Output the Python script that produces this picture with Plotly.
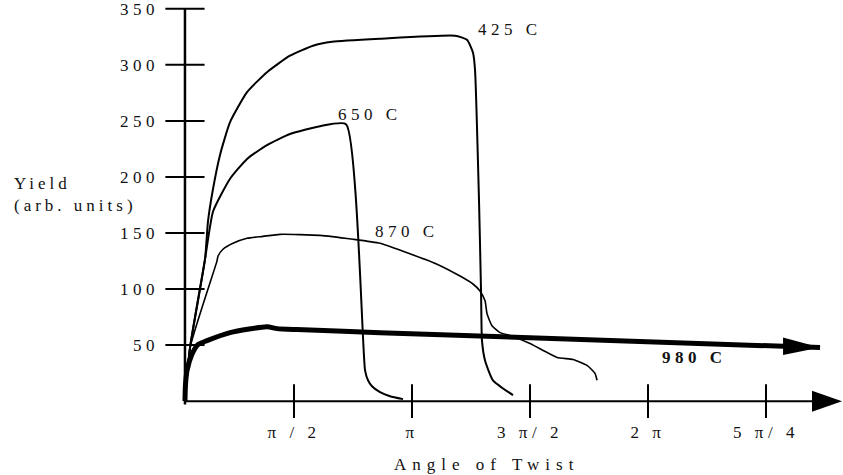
import plotly.graph_objects as go

# ---- data (angle in units of pi/2, yield in arb. units) ----
angle_ticks = [1, 2, 3, 4, 5]
angle_tick_labels = ["π / 2", "π", "3 π/ 2", "2 π", "5 π/ 4"]
yield_ticks = [50, 100, 150, 200, 250, 300, 350]

x425 = [0.076, 0.119, 0.246, 0.271, 0.314, 0.373, 0.458, 0.602, 0.771, 0.966,
        1.161, 1.322, 1.729, 2.364, 2.466, 2.517, 2.534, 2.568, 2.585, 2.593,
        2.619, 2.686, 2.856]
y425 = [0, 47.8, 126.7, 160.3, 189.5, 219.7, 248.9, 275.6, 293.5, 308.2,
        317.1, 320.6, 323.3, 326.0, 322.4, 310.9, 295.8, 178.0, 98.3, 54.0,
        36.3, 18.6, 5.3]

x650 = [0.076, 0.119, 0.246, 0.314, 0.458, 0.602, 0.771, 0.966, 1.220, 1.441,
        1.602, 1.627, 1.661, 1.729, 1.814, 1.924]
y650 = [0, 47.8, 126.7, 169.2, 198.4, 216.1, 228.5, 238.3, 245.3, 247.1,
        27.5, 18.6, 13.3, 8.0, 4.4, 1.8]

x870 = [0.076, 0.119, 0.347, 0.356, 0.398, 0.483, 0.602, 0.737, 0.881, 1.220,
        1.500, 1.729, 1.924, 2.212, 2.407, 2.517, 2.576, 2.619, 2.636, 2.678,
        2.746, 2.831, 3.000, 3.229, 3.364, 3.483, 3.551, 3.568]
y870 = [0, 47.8, 124.9, 129.3, 135.5, 140.8, 145.3, 147.0, 148.8, 147.9,
        144.4, 140.8, 133.7, 122.2, 111.6, 104.5, 98.3, 89.5, 77.9, 67.3,
        61.1, 58.5, 51.4, 39.0, 37.2, 31.9, 24.8, 18.6]

x980 = [0.076, 0.080, 0.093, 0.136, 0.186, 0.263, 0.458, 0.771, 0.856, 1.025, 1.729, 5.458]
y980 = [0, 14.0, 27.0, 42.0, 50.5, 54.0, 61.1, 66.4, 64.7, 63.8, 61.1, 47.8]

curve_labels = ["425 C", "650 C", "870 C", "980 C"]
label_x = [2.831, 1.644, 1.958, 4.398]
label_y = [331.3, 256.0, 151.5, 39.0]

axis_x0 = 0.076      # where the drawn y axis sits
x_axis_end = 5.644   # tip of x-axis arrow

FONT = "Liberation Serif"
def sp(t, s=4.5):
    return f'<span style="letter-spacing:{s}px">{t}</span>'

fig = go.Figure()

for xs, ys, w in [(x425, y425, 2), (x650, y650, 2), (x870, y870, 1.6)]:
    fig.add_trace(go.Scatter(x=xs, y=ys, mode="lines",
                             line=dict(color="black", width=w, shape="spline", smoothing=0.5),
                             hoverinfo="skip"))
fig.add_trace(go.Scatter(x=x980, y=y980, mode="lines",
                         line=dict(color="black", width=5, shape="spline", smoothing=0.6),
                         hoverinfo="skip"))

# tick marks crossing the axes
fig.add_trace(go.Scatter(x=[axis_x0] * len(yield_ticks), y=yield_ticks, mode="markers",
                         marker=dict(symbol="line-ew", size=28,
                                     line=dict(color="black", width=2)),
                         hoverinfo="skip", cliponaxis=False))
fig.add_trace(go.Scatter(x=angle_ticks, y=[0] * len(angle_ticks), mode="markers",
                         marker=dict(symbol="line-ns", size=24,
                                     line=dict(color="black", width=2)),
                         hoverinfo="skip"))

shapes = [
    dict(type="line", xref="x", yref="y", x0=axis_x0, x1=axis_x0, y0=-3, y1=yield_ticks[-1],
         line=dict(color="black", width=2.5)),
    dict(type="line", xref="x", yref="y", x0=axis_x0, x1=x_axis_end - 0.1, y0=0, y1=0,
         line=dict(color="black", width=2)),
    dict(type="path", xref="x", yref="y", xsizemode="pixel", ysizemode="pixel",
         xanchor=x_axis_end, yanchor=0, path="M-30,-10.5 L0,0 L-30,10.5 Z",
         fillcolor="black", line=dict(width=0)),
    dict(type="path", xref="x", yref="y", xsizemode="pixel", ysizemode="pixel",
         xanchor=x980[-1], yanchor=y980[-1], path="M-37,10 L0,0 L-37,-7.5 Z",
         fillcolor="black", line=dict(width=0)),
]

annotations = []
for i, (t, xx, yy) in enumerate(zip(curve_labels, label_x, label_y)):
    txt = sp(f"<b>{t}</b>" if i == 3 else t)
    annotations.append(dict(x=xx, y=yy, xref="x", yref="y", text=txt, showarrow=False,
                            font=dict(family=FONT, size=17, color="#111")))
annotations.append(dict(x=-0.2167, y=0.54, xref="paper", yref="paper", xanchor="left",
                        yanchor="middle", align="left", showarrow=False,
                        text=sp("Yield", 4) + "<br>" + sp("(arb. units)", 4),
                        font=dict(family=FONT, size=17, color="#111")))
annotations.append(dict(x=0.478, y=-0.106, xref="paper", yref="paper", xanchor="center",
                        yanchor="middle", showarrow=False, text=sp("Angle of Twist", 6),
                        font=dict(family=FONT, size=17, color="#111")))

fig.update_layout(
    width=843, height=475,
    margin=dict(l=160, r=0, t=0, b=55),
    paper_bgcolor="white", plot_bgcolor="white",
    showlegend=False,
    shapes=shapes, annotations=annotations,
    xaxis=dict(range=[-0.1356, 5.6525], tickvals=angle_ticks,
               ticktext=[sp(t) for t in angle_tick_labels],
               showgrid=False, zeroline=False, showline=False, ticks="",
               tickfont=dict(family=FONT, size=17, color="#111")),
    yaxis=dict(range=[-16.83, 355.2], tickvals=yield_ticks,
               ticktext=[sp(str(v)) for v in yield_ticks],
               showgrid=False, zeroline=False, showline=False, ticks="",
               ticklabeloverflow="allow",
               tickfont=dict(family=FONT, size=17, color="#111")),
)

fig.write_html("out.html")
